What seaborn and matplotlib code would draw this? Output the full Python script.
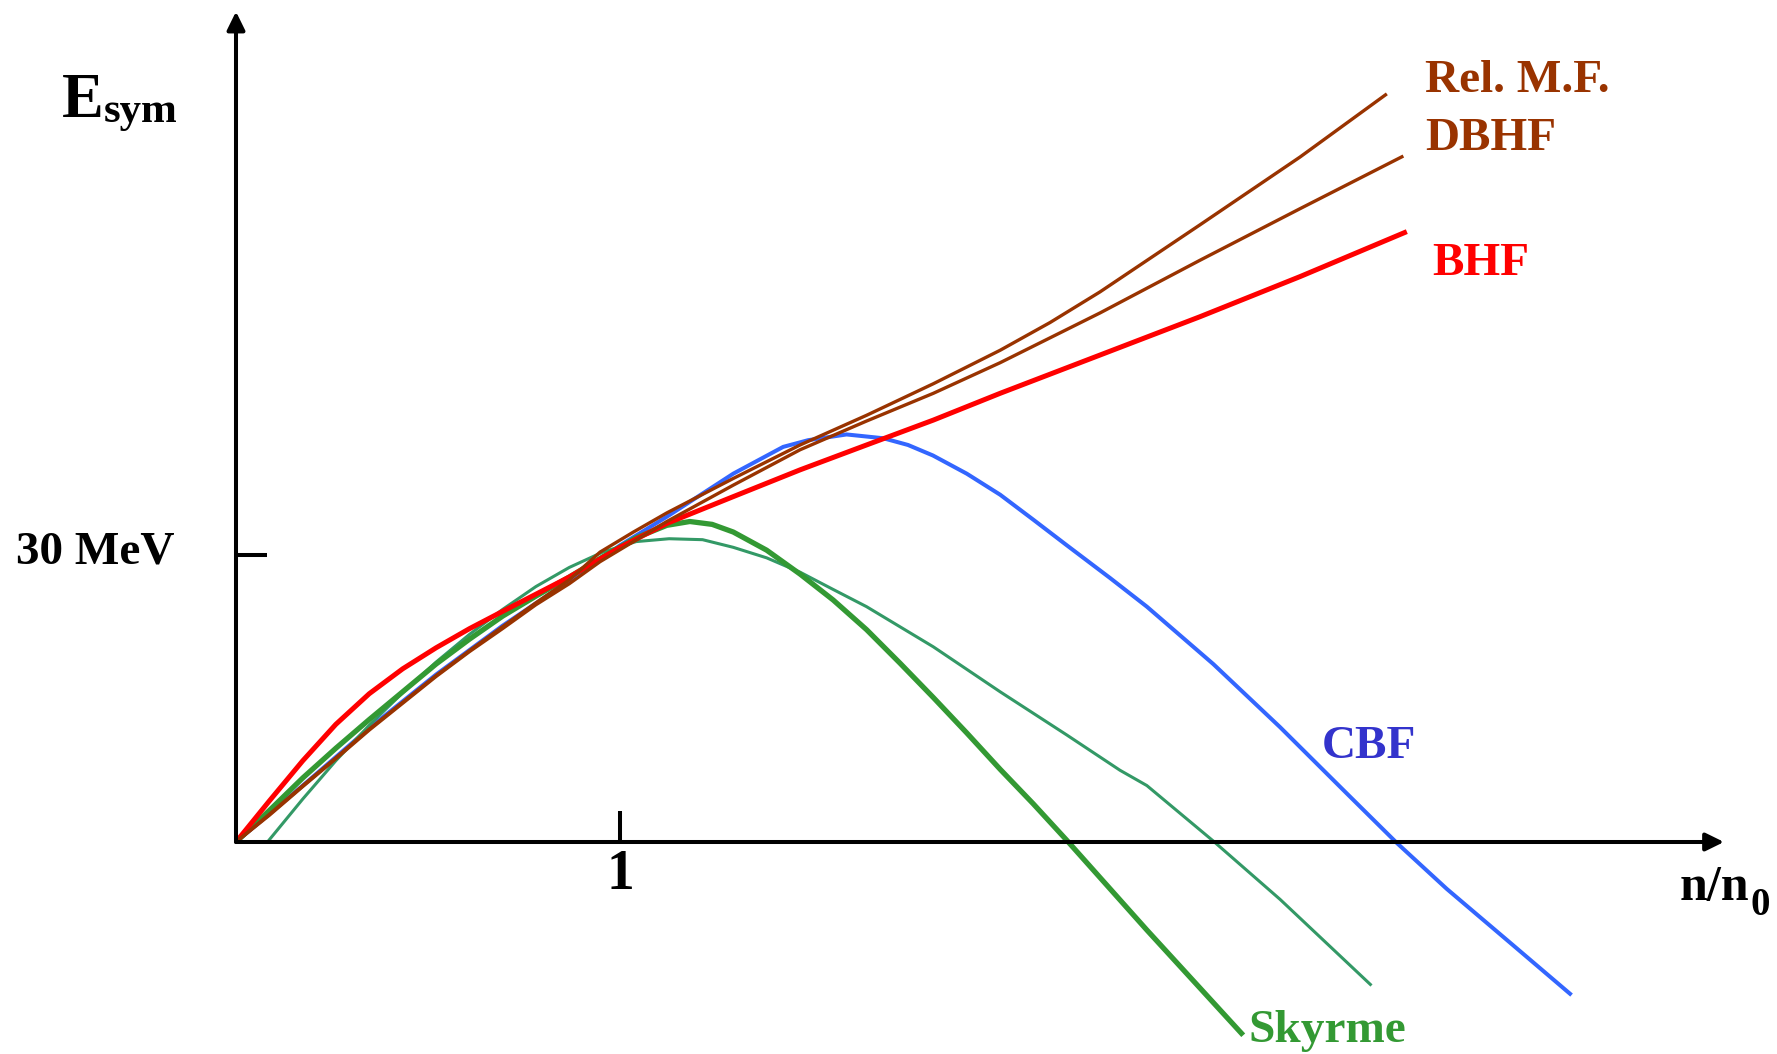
import matplotlib
matplotlib.use("Agg")
import matplotlib.pyplot as plt
import seaborn as sns
import pandas as pd

# ---------------- data ----------------
rmf_n = [0, 0.087, 0.174, 0.26, 0.347, 0.434, 0.521, 0.608, 0.694, 0.781, 0.868, 0.948,
         1.035, 1.122, 1.295, 1.469, 1.642, 1.816, 1.99, 2.12, 2.25, 2.51, 2.771, 2.997]
rmf_e = [0, 2.9, 5.9, 8.8, 11.8, 14.6, 17.4, 20.0, 22.5, 25.0, 27.4, 30.3,
         32.4, 34.4, 38.0, 41.5, 44.6, 47.9, 51.4, 54.3, 57.5, 64.5, 71.6, 78.2]

dbhf_n = [0, 0.087, 0.174, 0.26, 0.347, 0.434, 0.521, 0.608, 0.694, 0.781, 0.868, 0.948,
          1.122, 1.295, 1.469, 1.642, 1.816, 1.99, 2.25, 2.51, 2.771, 3.04]
dbhf_e = [0, 2.8, 5.8, 8.7, 11.7, 14.5, 17.3, 19.9, 22.3, 24.8, 27.0, 29.3,
          33.5, 37.3, 41.0, 44.0, 46.9, 50.1, 55.3, 60.8, 66.2, 71.7]

bhf_n = [0, 0.087, 0.174, 0.26, 0.347, 0.434, 0.521, 0.608, 0.694, 0.781, 0.868, 1.0,
         1.122, 1.295, 1.469, 1.642, 1.816, 1.99, 2.25, 2.51, 2.771, 3.049]
bhf_e = [0, 4.3, 8.5, 12.3, 15.5, 18.1, 20.3, 22.3, 24.1, 25.9, 27.7, 30.8,
         33.3, 36.1, 38.9, 41.5, 44.1, 46.9, 50.9, 54.9, 59.1, 63.8]

cbf_n = [0, 0.174, 0.347, 0.521, 0.694, 0.868, 1.0, 1.122, 1.295, 1.425, 1.49, 1.59,
         1.686, 1.75, 1.815, 1.903, 1.99, 2.076, 2.164, 2.276, 2.372, 2.545, 2.719,
         2.892, 3.023, 3.153, 3.326, 3.478]
cbf_e = [0, 5.9, 11.9, 17.5, 22.6, 27.3, 31.0, 34.0, 38.5, 41.3, 42.0, 42.6,
         42.2, 41.5, 40.4, 38.5, 36.3, 33.7, 31.0, 27.6, 24.6, 18.6, 12.0,
         5.1, -0.1, -4.9, -10.8, -16.0]

sky1_n = [0, 0.087, 0.174, 0.26, 0.347, 0.434, 0.521, 0.608, 0.694, 0.781, 0.868, 0.955,
          1.042, 1.122, 1.182, 1.24, 1.295, 1.382, 1.469, 1.555, 1.642, 1.729, 1.816,
          1.903, 1.99, 2.076, 2.163, 2.372, 2.623]
sky1_e = [0, 3.3, 6.7, 9.8, 12.8, 15.7, 18.6, 21.2, 23.6, 25.7, 27.7, 29.8,
          31.8, 33.1, 33.5, 33.2, 32.4, 30.5, 28.0, 25.3, 22.2, 18.7, 15.1,
          11.4, 7.6, 4.0, 0.2, -9.2, -20.2]

sky2_n = [0.082, 0.174, 0.26, 0.347, 0.434, 0.521, 0.608, 0.694, 0.781, 0.868, 0.955,
          1.042, 1.128, 1.215, 1.295, 1.382, 1.469, 1.555, 1.642, 1.816, 1.99, 2.163,
          2.302, 2.372, 2.545, 2.719, 2.957]
sky2_e = [0, 4.5, 8.5, 12.2, 15.6, 18.8, 21.7, 24.3, 26.7, 28.7, 30.3,
          31.4, 31.7, 31.6, 30.8, 29.7, 28.2, 26.4, 24.6, 20.4, 15.7, 11.2,
          7.5, 5.9, 0.1, -6.0, -15.0]

labels = ["Rel. M.F.", "DBHF", "BHF", "CBF", "Skyrme"]
tick_x_label = "1"
tick_y_label = "30 MeV"

# ---------------- build long table ----------------
series = [
    ("CBF", cbf_n, cbf_e),
    ("Skyrme b", sky2_n, sky2_e),
    ("Skyrme a", sky1_n, sky1_e),
    ("BHF", bhf_n, bhf_e),
    ("DBHF", dbhf_n, dbhf_e),
    ("Rel. M.F.", rmf_n, rmf_e),
]
rows = []
for name, xs, ys in series:
    for x, y in zip(xs, ys):
        rows.append({"model": name, "n": x, "E": y})
df = pd.DataFrame(rows)

order = [s[0] for s in series]
palette = {"CBF": "#3366FF", "Skyrme b": "#339966", "Skyrme a": "#339933",
           "BHF": "#FF0000", "DBHF": "#993300", "Rel. M.F.": "#993300"}
widths = {"CBF": 2.9, "Skyrme b": 2.2, "Skyrme a": 3.8,
          "BHF": 3.6, "DBHF": 2.4, "Rel. M.F.": 2.4}

sns.set_style("white")
plt.rcParams["font.family"] = ["Liberation Serif", "DejaVu Serif"]

W, H = 1777, 1054
fig = plt.figure(figsize=(W / 100, H / 100), dpi=100)
ax = fig.add_axes([0, 0, 1, 1])

X0, Y0, PX_N, PX_E = 236, 842, 384, 9.567
ax.set_xlim(-X0 / PX_N, (W - X0) / PX_N)
ax.set_ylim((Y0 - H) / PX_E, Y0 / PX_E)

sns.lineplot(data=df, x="n", y="E", hue="model", hue_order=order, palette=palette,
             size="model", size_order=order, sizes=widths, estimator=None,
             sort=False, legend=False, ax=ax, solid_capstyle="butt",
             solid_joinstyle="round")
ax.axis("off")

# axes with arrows
arrow = dict(arrowstyle="-|>,head_length=0.55,head_width=0.27", lw=2.9, color="black",
             mutation_scale=20, shrinkA=0, shrinkB=0)
ax.annotate("", xy=(3.875, 0), xytext=(0, 0), arrowprops=arrow)
ax.annotate("", xy=(0, 86.8), xytext=(0, 0), arrowprops=arrow)
ax.plot([1, 1], [0, 3.24], color="black", lw=2.9, solid_capstyle="butt")
ax.plot([0, 0.082], [30, 30], color="black", lw=2.9, solid_capstyle="butt")

def ftext(x, y, s, size, color="black", ha="left"):
    fig.text(x / W, 1 - y / H, s, fontsize=size, color=color, ha=ha, va="baseline",
             fontweight="bold", family=["Liberation Serif", "DejaVu Serif"])

ftext(62, 117, "E", 45)
ftext(104, 122, "sym", 31)
ftext(174, 563, tick_y_label, 34, ha="right")
ftext(620, 889, tick_x_label, 40, ha="center")
ftext(1680, 900, "n/n", 36)
ftext(1750, 915, "0", 28)

ftext(1425, 92, labels[0], 34, color="#993300")
ftext(1425, 150, labels[1], 34, color="#993300")
ftext(1432, 275, labels[2], 34, color="#FF0000")
ftext(1322, 758, labels[3], 34, color="#3333CC")
ftext(1248, 1042, labels[4], 34, color="#339933")

fig.savefig("out.png", dpi=100)
